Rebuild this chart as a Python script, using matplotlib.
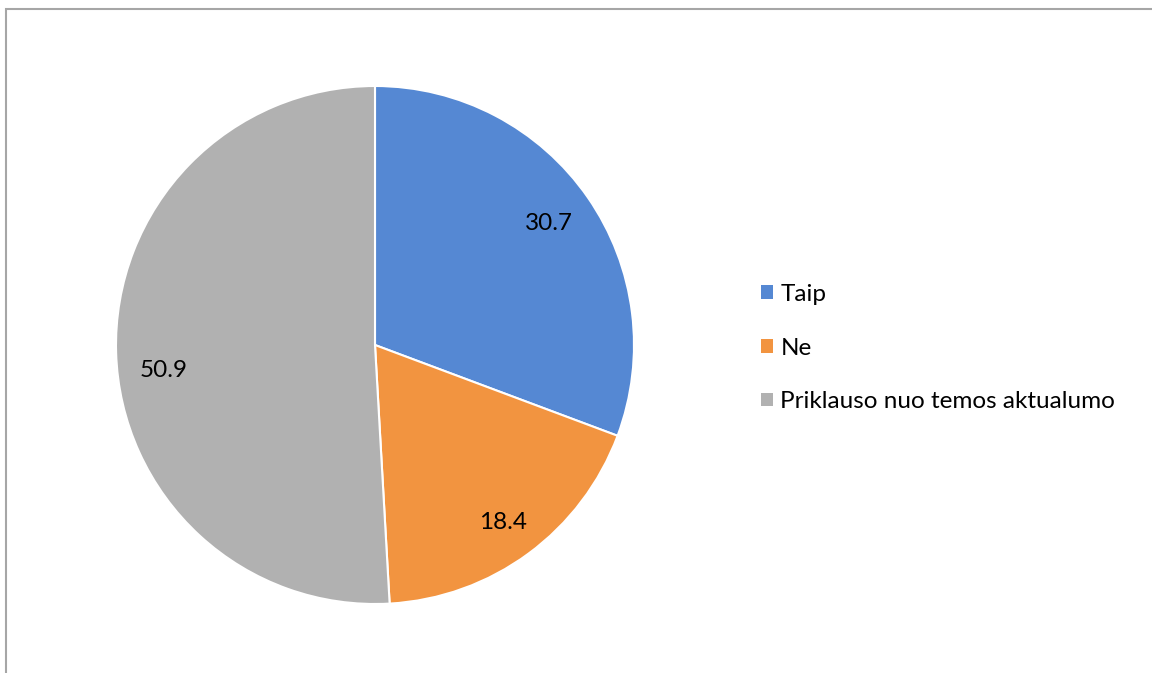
import matplotlib.pyplot as plt
from matplotlib.patches import Patch, Rectangle

labels = ["Taip", "Ne", "Priklauso nuo temos aktualumo"]
values = [30.7, 18.4, 50.9]
colors = ["#5588D3", "#F29440", "#B1B1B1"]

# where the data labels sit (Excel "best fit" spots, in pie radius units)
label_pos = [(0.672, 0.468), (0.494, -0.687), (-0.816, -0.098)]

plt.rcParams['font.family'] = ['Lato', 'DejaVu Sans']

W, H = 1152, 673
fig = plt.figure(figsize=(W / 100, H / 100), dpi=100)

# figure border (only top and left visible in the reference)
fig.patches.append(Rectangle((6 / W, -0.1), 1.2, (H - 9) / H + 0.1,
                             transform=fig.transFigure, fill=False,
                             edgecolor="#A6A6A6", linewidth=1.5))

cx, cy, r = 375, 345, 259
ax = fig.add_axes([(cx - r) / W, (H - cy - r) / H, 2 * r / W, 2 * r / H])

wedges, texts = ax.pie(
    values, colors=colors, startangle=90, counterclock=False, radius=1,
    wedgeprops=dict(edgecolor="white", linewidth=1.5))
for v, (x, y) in zip(values, label_pos):
    ax.text(x, y, f"{v}", ha="center", va="center", fontsize=17.5,
            color="black")
ax.set_xlim(-1, 1)
ax.set_ylim(-1, 1)
ax.set_aspect("equal")

handles = [Patch(facecolor=c, edgecolor="none") for c in colors]
fig.legend(handles, labels, loc="center left",
           bbox_to_anchor=(739 / W, 1 - 348 / H), frameon=False,
           fontsize=17.5, handlelength=0.5, handleheight=0.5,
           handletextpad=0.3, labelspacing=1.34)

fig.savefig("out.png", dpi=100)
